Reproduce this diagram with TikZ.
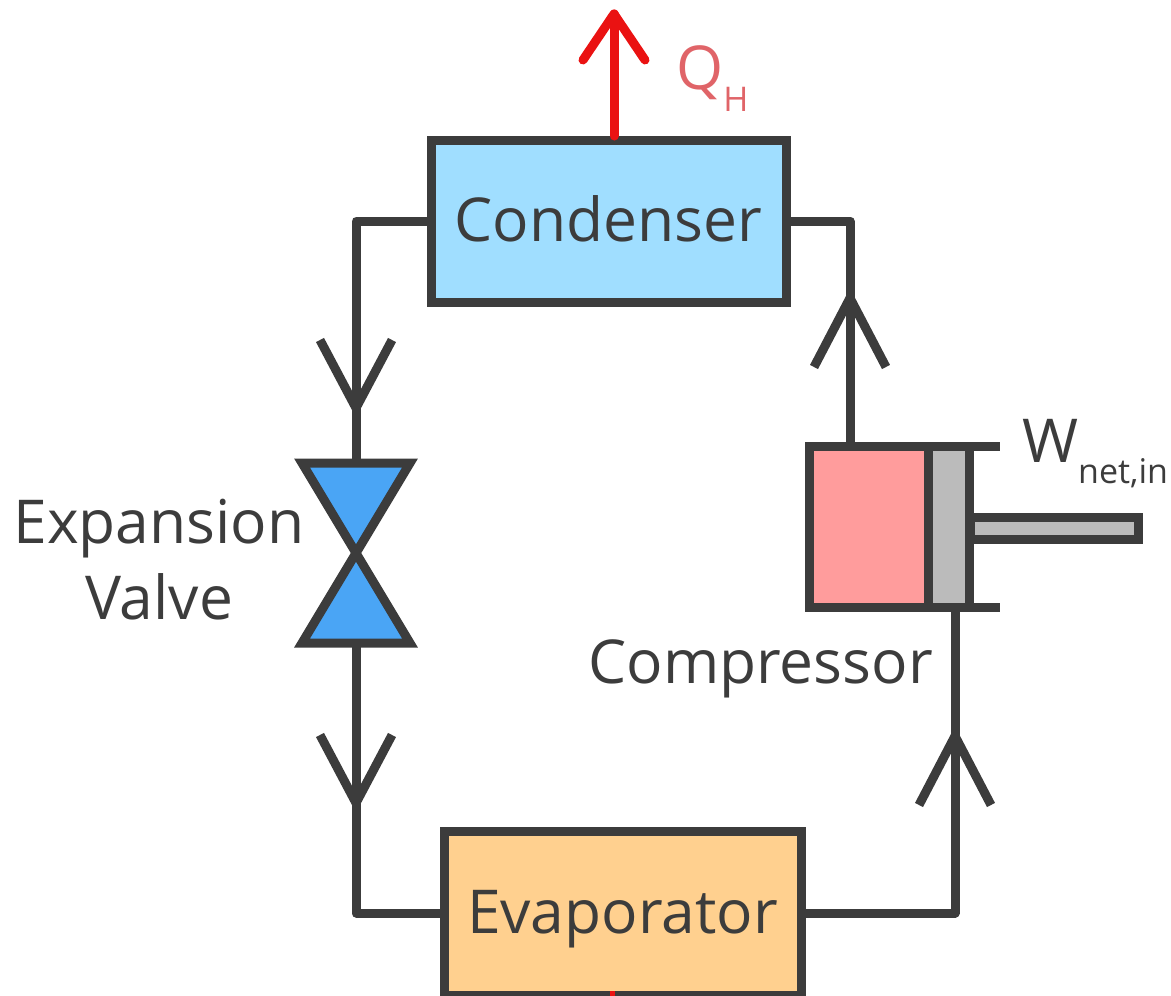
\documentclass[tikz,border=0pt]{standalone}
\usepackage{fontspec}
\setmainfont{Open Sans}
\definecolor{ink}{HTML}{3C3C3C}
\definecolor{condfill}{HTML}{A0DEFF}
\definecolor{evapfill}{HTML}{FFD08F}
\definecolor{valvefill}{HTML}{4AA5F5}
\definecolor{cylfill}{HTML}{FF9C9C}
\definecolor{pistfill}{HTML}{BBBBBB}
\definecolor{heatline}{HTML}{EA1212}
\definecolor{heattext}{HTML}{E06468}
\tikzset{
  box/.style={draw=ink,line width=9pt,rectangle,inner sep=0pt,outer sep=0pt},
  pipe/.style={draw=ink,line width=9pt,line join=round},
  heat/.style={draw=heatline,line width=9pt,line join=round,line cap=round},
  label/.style={text=ink,font=\fontsize{60.5}{76}\selectfont,inner sep=0pt},
}
\begin{document}
\begin{tikzpicture}[x=1pt,y=-1pt]
  \clip (0,0) rectangle (1171,996);

  \begin{scope}[every node/.style={box,label}]
    \node[fill=condfill,minimum width=355pt,minimum height=162pt,text height=40pt,text depth=0pt] (cond) at (608.5,221) {Condenser};
    \node[fill=evapfill,minimum width=357pt,minimum height=164pt,text height=40pt,text depth=0pt] (evap) at (622.5,913) {Evaporator};
    \node[fill=cylfill,minimum width=119pt,minimum height=161pt] (cyl) at (868.5,526.5) {};
    \node[fill=pistfill,minimum width=41pt,minimum height=161pt] (piston) at (949,526.5) {};
    \node[fill=pistfill,minimum width=168pt,minimum height=22pt] (rod) at (1054,528) {};
  \end{scope}

  \coordinate (valvetop) at (356,463);
  \coordinate (valvebot) at (356,643);
  \coordinate (tl) at (302,463);
  \coordinate (tr) at (410,463);
  \coordinate (bl) at (302,643);
  \coordinate (br) at (410,643);
  \draw[draw=ink,line width=9pt,fill=valvefill,line join=miter] (tl) -- (tr) -- (bl) -- (br) -- cycle;

  \coordinate (heattop) at (614,14);
  \coordinate (heatbot) at (614,136);
  \coordinate (coldbit) at (612,991);
  \coordinate (coldend) at (612,996);
  \coordinate (cyltop) at (850,446);
  \coordinate (cylbot) at (955,607);
  \coordinate (lipt) at (1000,446);
  \coordinate (lipb) at (1000,607);
  \coordinate (tipa) at (356,408);
  \coordinate (tipb) at (356,803);
  \coordinate (tipc) at (955,736);
  \coordinate (tipd) at (850,298);

  \path[pipe] (cond.west) -| (valvetop);
  \path[pipe] (valvebot) |- (evap.west);
  \path[pipe] (evap.east) -| (cylbot);
  \path[pipe] (cyltop) |- (cond.east);
  \path[pipe] (cyl.north east) -- (lipt);
  \path[pipe] (cyl.south east) -- (lipb);

  \path[pipe] (tipa) ++(-36,-68) -- (tipa) -- ++(36,-68);
  \path[pipe] (tipb) ++(-36,-68) -- (tipb) -- ++(36,-68);
  \path[pipe] (tipc) ++(-36,69) -- (tipc) -- ++(36,69);
  \path[pipe] (tipd) ++(-36,69) -- (tipd) -- ++(36,69);

  \path[heat] (heatbot) -- (heattop);
  \path[heat] (heattop) ++(-31,46) -- (heattop) -- ++(31,46);
  \draw[line width=5pt,color=heatline] (coldbit) -- (coldend);

  \node[label,align=center] (valvelabel) at (159,560) {Expansion\\Valve};
  \node[label,anchor=base east] (complabel) at (933,683) {Compressor};
  \node[label,anchor=base west] (worklabel) at (1022,462) {W\raisebox{-21pt}{\fontsize{34}{36}\selectfont net,in}};
  \node[label,anchor=base west,text=heattext] (heatlabel) at (676,89) {Q\raisebox{-22pt}{\fontsize{34}{36}\selectfont H}};
\end{tikzpicture}
\end{document}
